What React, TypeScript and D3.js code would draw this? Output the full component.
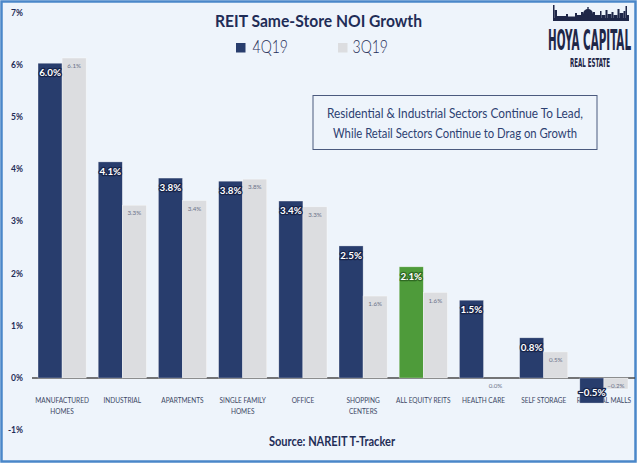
import React, { useLayoutEffect, useRef, useState } from "react";
import * as d3 from "d3";

const categories = [
  "MANUFACTURED\nHOMES",
  "INDUSTRIAL",
  "APARTMENTS",
  "SINGLE FAMILY\nHOMES",
  "OFFICE",
  "SHOPPING\nCENTERS",
  "ALL EQUITY REITS",
  "HEALTH CARE",
  "SELF STORAGE",
  "REGIONAL MALLS",
];
const q4Values = [6.03, 4.14, 3.83, 3.77, 3.39, 2.53, 2.13, 1.49, 0.77, -0.48];
const q3Values = [6.13, 3.31, 3.4, 3.81, 3.28, 1.57, 1.64, 0.0, 0.5, -0.21];
const seriesNames = ["4Q19", "3Q19"];
const highlightCategory = "ALL EQUITY REITS";
const yTicks = [-1, 0, 1, 2, 3, 4, 5, 6, 7];
const titleText = "REIT Same-Store NOI Growth";
const noteLines = [
  "Residential & Industrial Sectors Continue To Lead,",
  "While Retail Sectors Continue to Drag on Growth",
];
const sourceText = "Source: NAREIT T-Tracker";

const W = 640;
const H = 465;
const NAVY = "#283d6d";
const GRAY = "#dcdde0";
const GREEN = "#4e9b3a";
const BG = "#eef4fb";
const TEXT_NAVY = "#1f2d57";
const FONT = "Lato, 'Open Sans', sans-serif";
const LOGO_FONT = "'DejaVu Sans Condensed', 'DejaVu Sans', sans-serif";

// decorative skyline for the logo: [x offset, width, height]
const skyline: [number, number, number][] = [
  [0, 1.5, 16], [1.5, 2.5, 11], [4, 9, 5], [13, 2, 7], [15, 7, 4.5], [22, 2, 8],
  [24, 4, 6], [28, 2, 9], [30, 10, 7], [34.3, 1.4, 14], [40, 2, 9], [42, 5, 6],
  [47, 1.5, 10], [48.5, 4, 6], [52.5, 2, 11], [54.5, 4, 7], [58.5, 2, 9],
  [60.5, 4, 6], [64.5, 2, 12], [66.5, 4, 8], [70.5, 2, 10], [72.5, 1.5, 15], [74, 2, 6],
];

function FitText(props: {
  text: string;
  cx: number;
  baseline: number;
  width: number;
  fontSize: number;
  fill?: string;
}) {
  const ref = useRef<SVGTextElement>(null);
  const [sx, setSx] = useState(0.4);
  useLayoutEffect(() => {
    if (ref.current) {
      const w = ref.current.getComputedTextLength();
      if (w > 0) setSx(props.width / w);
    }
  }, [props.text, props.width]);
  return (
    <text
      ref={ref}
      x={0}
      y={0}
      textAnchor="middle"
      fontSize={props.fontSize}
      fontWeight={700}
      fontFamily={LOGO_FONT}
      fill={props.fill}
      transform={`translate(${props.cx},${props.baseline}) scale(${sx},1)`}
    >
      {props.text}
    </text>
  );
}

export default function App() {
  const x = d3
    .scaleBand<string>()
    .domain(categories)
    .range([32, 634])
    .paddingInner(0.2)
    .paddingOuter(0.1);
  const x1 = d3
    .scaleBand<string>()
    .domain(seriesNames)
    .range([0, x.bandwidth()]);
  const y = d3.scaleLinear().domain([-1, 7]).range([430.2, 12.6]);
  const fmt = (v: number) => d3.format(".1f")(v) + "%";

  const bars = categories.map((c, i) => ({
    c,
    q4: q4Values[i],
    q3: q3Values[i],
  }));

  const skyX = 553;
  const skyBase = 21;

  return (
    <svg
      width={W}
      height={H}
      style={{ position: "absolute", left: 0, top: 0, fontFamily: FONT }}
    >
      <rect x={0} y={0} width={W} height={H} fill="#ffffff" />
      <rect
        x={1.5}
        y={1.5}
        width={634}
        height={460}
        fill={BG}
        stroke="#4a87c9"
        strokeWidth={2.5}
      />

      {/* y axis labels */}
      {yTicks.map((t) => (
        <text
          key={t}
          x={23}
          y={y(t)}
          dy="0.35em"
          textAnchor="end"
          fontSize={8.5}
          fontWeight={700}
          fill={TEXT_NAVY}
        >
          {t + "%"}
        </text>
      ))}

      {/* category labels (drawn under bars) */}
      {categories.map((c) => {
        const lines = c.split("\n");
        const cx = (x(c) as number) + x.bandwidth() / 2;
        return (
          <text
            key={c}
            x={cx}
            y={403.5}
            textAnchor="middle"
            fontSize={7.4}
            fill="#3d4865"
            transform={`translate(${cx},0) scale(0.88,1) translate(${-cx},0)`}
          >
            {lines.map((l, k) => (
              <tspan key={k} x={cx} dy={k === 0 ? 0 : 11}>
                {l}
              </tspan>
            ))}
          </text>
        );
      })}

      {/* zero line */}
      <line x1={32} x2={635} y1={y(0)} y2={y(0)} stroke="#4a4a4a" strokeWidth={1.3} />

      {/* bars */}
      {bars.map((b) => {
        const x0 = x(b.c) as number;
        const xd = x0 + (x1("4Q19") as number);
        const xl = x0 + (x1("3Q19") as number);
        const bw = x1.bandwidth();
        const dTop = Math.min(y(b.q4), y(0));
        const dH = Math.abs(y(b.q4) - y(0));
        const lTop = Math.min(y(b.q3), y(0));
        const lH = Math.abs(y(b.q3) - y(0));
        const darkFill = b.c === highlightCategory ? GREEN : NAVY;
        const dLabelY = b.q4 >= 0 ? dTop + 9.5 : dTop + dH - 10;
        return (
          <g key={b.c}>
            <rect x={xd} y={dTop} width={bw} height={dH} fill={darkFill} stroke="#ffffff" strokeOpacity={0.5} strokeWidth={0.6} />
            <rect x={xl} y={lTop} width={bw} height={lH} fill={GRAY} stroke="#ffffff" strokeOpacity={0.6} strokeWidth={0.6} />
            <text
              x={xd + bw / 2}
              y={dLabelY}
              dy="0.35em"
              textAnchor="middle"
              fontSize={9.8}
              fontWeight={700}
              fill="#ffffff"
              stroke={b.c === highlightCategory ? "#2f6a22" : "#17244a"}
              strokeWidth={2.6}
              strokeLinejoin="round"
              style={{ paintOrder: "stroke" }}
            >
              {fmt(b.q4)}
            </text>
            <text
              x={xl + bw / 2}
              y={lTop + 8}
              dy="0.35em"
              textAnchor="middle"
              fontSize={6.2}
              fill="#6b7289"
            >
              {fmt(b.q3)}
            </text>
          </g>
        );
      })}

      {/* title */}
      <text
        x={318.5}
        y={27}
        textAnchor="middle"
        fontSize={17}
        fontWeight={700}
        fill={TEXT_NAVY}
        textLength={207}
        lengthAdjust="spacingAndGlyphs"
      >
        {titleText}
      </text>

      {/* legend */}
      <rect x={236} y={43} width={9.5} height={9.5} fill={NAVY} />
      <text x={252.5} y={52.5} fontSize={17} fontWeight={300} fill={TEXT_NAVY} textLength={35.5} lengthAdjust="spacingAndGlyphs">
        {seriesNames[0]}
      </text>
      <rect x={338} y={43} width={9.5} height={9.5} fill={GRAY} />
      <text x={352.5} y={52.5} fontSize={17} fontWeight={300} fill={TEXT_NAVY} textLength={35.5} lengthAdjust="spacingAndGlyphs">
        {seriesNames[1]}
      </text>

      {/* annotation box */}
      <rect x={313} y={95.5} width={284} height={54} fill={BG} stroke="#4b5a7e" strokeWidth={1} />
      {noteLines.map((l, i) => (
        <text
          key={i}
          x={455}
          y={117.5 + i * 20}
          textAnchor="middle"
          fontSize={13}
          fill="#2d4172"
          textLength={i === 0 ? 256 : 244}
          lengthAdjust="spacingAndGlyphs"
        >
          {l}
        </text>
      ))}

      {/* source */}
      <text
        x={332}
        y={446}
        textAnchor="middle"
        fontSize={12.5}
        fontWeight={700}
        fill={TEXT_NAVY}
        textLength={126}
        lengthAdjust="spacingAndGlyphs"
      >
        {sourceText}
      </text>

      {/* logo */}
      <g fill="#1f2748">
        {skyline.map(([dx, w, h], i) => (
          <rect key={i} x={skyX + dx} y={skyBase - h} width={w} height={h} />
        ))}
        <path d={`M${skyX + 30} ${skyBase - 7} a5 5 0 0 1 10 0 z`} />
        <rect x={skyX} y={skyBase - 3} width={76} height={3} />
        <FitText text="HOYA CAPITAL" cx={589.5} baseline={49.5} width={83} fontSize={28.5} fill="#1f2748" />
        <FitText text="REAL ESTATE" cx={590} baseline={67} width={40} fontSize={11.5} fill="#1f2748" />
      </g>
    </svg>
  );
}
